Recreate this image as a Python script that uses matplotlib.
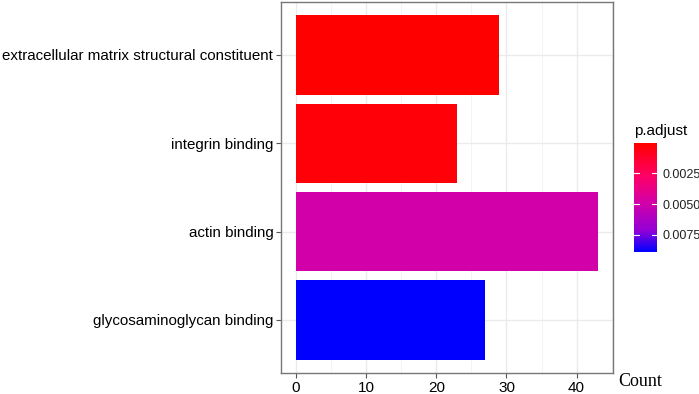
import numpy as np
import matplotlib
matplotlib.use("Agg")
import matplotlib.pyplot as plt
from matplotlib.colors import LinearSegmentedColormap, Normalize
import matplotlib.cm as cm

categories = ["glycosaminoglycan binding", "actin binding", "integrin binding",
              "extracellular matrix structural constituent"]
counts = [27, 43, 23, 29]
p_adjust = [0.0089, 0.0049, 0.0003, 0.00005]
cbar_ticks = [0.0025, 0.0050, 0.0075]
cbar_ticklabels = ["0.0025", "0.0050", "0.0075"]
x_ticks = [0, 10, 20, 30, 40]

plt.rcParams['font.family'] = ['Liberation Sans', 'DejaVu Sans']

# red -> magenta -> blue gradient (low p = red, high p = blue)
cmap = LinearSegmentedColormap.from_list("padj", [
    (0.0, (1.0, 0.0, 0.0)),
    (0.3, (1.0, 0.0, 0.40)),
    (0.55, (0.82, 0.0, 0.66)),
    (0.8, (0.58, 0.0, 0.84)),
    (1.0, (0.0, 0.0, 1.0)),
])
norm = Normalize(vmin=min(p_adjust), vmax=max(p_adjust))

fig = plt.figure(figsize=(6.99, 3.94), dpi=100)
ax = fig.add_axes([281 / 699, 1 - 373 / 394, (612.7 - 281) / 699, (373 - 2) / 394])

y = np.arange(1, len(categories) + 1)
ax.barh(y, counts, height=0.9, color=[cmap(norm(p)) for p in p_adjust], zorder=3)
ax.set_yticks(y)
ax.set_yticklabels(categories, fontsize=10.9, color='black')
ax.set_ylim(0.4, 4.6)
ax.set_xlim(-2.15, 45.15)
ax.set_xticks(x_ticks)
ax.set_xticklabels([str(v) for v in x_ticks], fontsize=11, color='black')
ax.set_xticks([5, 15, 25, 35, 45], minor=True)
ax.tick_params(axis='x', which='minor', length=0)
ax.grid(True, which='major', color='#EBEBEB', linewidth=1.0, zorder=0)
ax.grid(True, which='minor', axis='x', color='#F3F3F3', linewidth=0.6, zorder=0)
ax.tick_params(axis='both', which='major', length=3.5, width=0.8, color='#555555', pad=2)
for s in ax.spines.values():
    s.set_color('#777777')
    s.set_linewidth(1.0)

fig.text(618 / 699, 1 - 382 / 394, "Count", family=['Liberation Serif', 'DejaVu Serif'],
         fontsize=13, ha='left', va='center')

# colorbar
cax = fig.add_axes([634 / 699, 1 - 252 / 394, (656.7 - 634) / 699, (252 - 143.3) / 394])
sm = cm.ScalarMappable(norm=norm, cmap=cmap)
cb = fig.colorbar(sm, cax=cax)
cb.outline.set_visible(False)
cax.invert_yaxis()
cb.set_ticks(cbar_ticks)
cb.set_ticklabels(cbar_ticklabels)
cax.tick_params(length=0, labelsize=9, pad=4, colors='#222222')
for t in cbar_ticks:
    cax.plot([0, 0.2], [t, t], color='white', lw=0.8, transform=cax.get_yaxis_transform())
    cax.plot([0.8, 1.0], [t, t], color='white', lw=0.8, transform=cax.get_yaxis_transform())
fig.text(634 / 699, 1 - 131 / 394, "p.adjust", fontsize=11, ha='left', va='center')

fig.savefig("out.png", dpi=100)
